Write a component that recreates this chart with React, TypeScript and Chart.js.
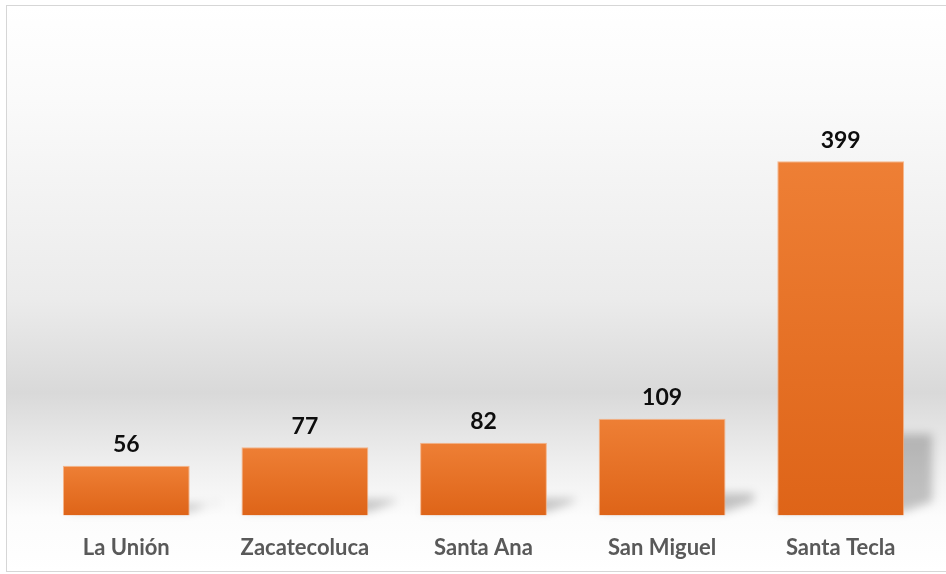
import React, { useEffect, useRef } from "react";
import { Chart, registerables } from "chart.js";

Chart.register(...registerables);

const categories: string[] = ["La Unión", "Zacatecoluca", "Santa Ana", "San Miguel", "Santa Tecla"];
const values: number[] = [56, 77, 82, 109, 399];
const yMin = 0;
const yMax = 450;

const FONT = "Lato, 'Open Sans', sans-serif";

export default function App() {
  const ref = useRef<HTMLCanvasElement>(null);

  useEffect(() => {
    const canvas = ref.current;
    if (!canvas) return;

    const bgPlugin = {
      id: "bgPlugin",
      beforeDraw(chart: any) {
        const ctx = chart.ctx as CanvasRenderingContext2D;
        ctx.save();
        ctx.fillStyle = "#ffffff";
        ctx.fillRect(0, 0, chart.width, chart.height);
        const g = ctx.createLinearGradient(0, 5, 0, 572);
        const span = 567;
        const stop = (y: number, c: string) => g.addColorStop(Math.min(1, Math.max(0, (y - 5) / span)), c);
        stop(5, "#ffffff");
        stop(100, "#fafafa");
        stop(300, "#ebebeb");
        stop(393, "#d9d9d9");
        stop(465, "#efefef");
        stop(517, "#fcfcfc");
        stop(572, "#ffffff");
        ctx.fillStyle = g;
        ctx.fillRect(7, 5, 960, 567);
        ctx.strokeStyle = "#d6d6d6";
        ctx.lineWidth = 1;
        ctx.strokeRect(6.5, 5.5, 970, 566);
        ctx.restore();
      },
    };

    const shadowPlugin = {
      id: "shadowPlugin",
      beforeDatasetsDraw(chart: any) {
        const ctx = chart.ctx as CanvasRenderingContext2D;
        const meta = chart.getDatasetMeta(0);
        ctx.save();
        ctx.filter = "blur(5px)";
        ctx.fillStyle = "rgba(0,0,0,0.22)";
        meta.data.forEach((bar: any) => {
          const p = bar.getProps(["x", "y", "base", "width"], true);
          const h = p.base - p.y;
          const left = p.x - p.width / 2;
          const right = p.x + p.width / 2;
          const dx = 28;
          const top = p.base - 0.23 * h;
          const bottom = p.base - 4;
          ctx.beginPath();
          ctx.moveTo(left, bottom);
          ctx.lineTo(right, bottom);
          ctx.lineTo(right + dx, bottom - 10);
          ctx.lineTo(right + dx, top);
          ctx.lineTo(left + dx, top);
          ctx.closePath();
          ctx.fill();
        });
        ctx.restore();
      },
    };

    const labelPlugin = {
      id: "labelPlugin",
      afterDatasetsDraw(chart: any) {
        const ctx = chart.ctx as CanvasRenderingContext2D;
        const meta = chart.getDatasetMeta(0);
        ctx.save();
        ctx.font = `bold 23px ${FONT}`;
        ctx.fillStyle = "#0d0d0d";
        ctx.textAlign = "center";
        ctx.textBaseline = "middle";
        meta.data.forEach((bar: any, i: number) => {
          const p = bar.getProps(["x", "y"], true);
          ctx.fillText(String(values[i]), p.x, p.y - 21);
        });
        ctx.restore();
      },
    };

    const chart = new Chart(canvas, {
      type: "bar",
      data: {
        labels: categories,
        datasets: [
          {
            data: values,
            backgroundColor: (context: any) => {
              const c = context.chart;
              const ys = c.scales && c.scales.y;
              if (!ys || context.raw === undefined) return "#E97628";
              const top = ys.getPixelForValue(context.raw);
              const base = ys.getPixelForValue(0);
              if (!isFinite(top) || !isFinite(base) || base === top) return "#E97628";
              const g = c.ctx.createLinearGradient(0, top, 0, base);
              g.addColorStop(0, "#EE7F35");
              g.addColorStop(1, "#DE6418");
              return g;
            },
            borderColor: "rgba(247,170,120,0.85)",
            borderWidth: 1,
            barPercentage: 0.71,
            categoryPercentage: 1,
          },
        ],
      },
      options: {
        responsive: false,
        animation: false,
        devicePixelRatio: 1,
        layout: { padding: { left: 37, right: 16, top: 116, bottom: -6 } },
        plugins: {
          legend: { display: false },
          tooltip: { enabled: false },
          title: { display: false },
        },
        scales: {
          x: {
            grid: { display: false, drawTicks: false },
            border: { display: false },
            ticks: {
              color: "#595959",
              padding: 19,
              font: { family: FONT, size: 22, weight: "bold" },
            },
          },
          y: {
            display: false,
            min: yMin,
            max: yMax,
          },
        },
      },
      plugins: [bgPlugin, shadowPlugin, labelPlugin],
    });

    return () => chart.destroy();
  }, []);

  return (
    <div style={{ position: "absolute", left: 0, top: 0, width: 946, height: 574 }}>
      <canvas ref={ref} width={946} height={574} style={{ display: "block" }} />
    </div>
  );
}
